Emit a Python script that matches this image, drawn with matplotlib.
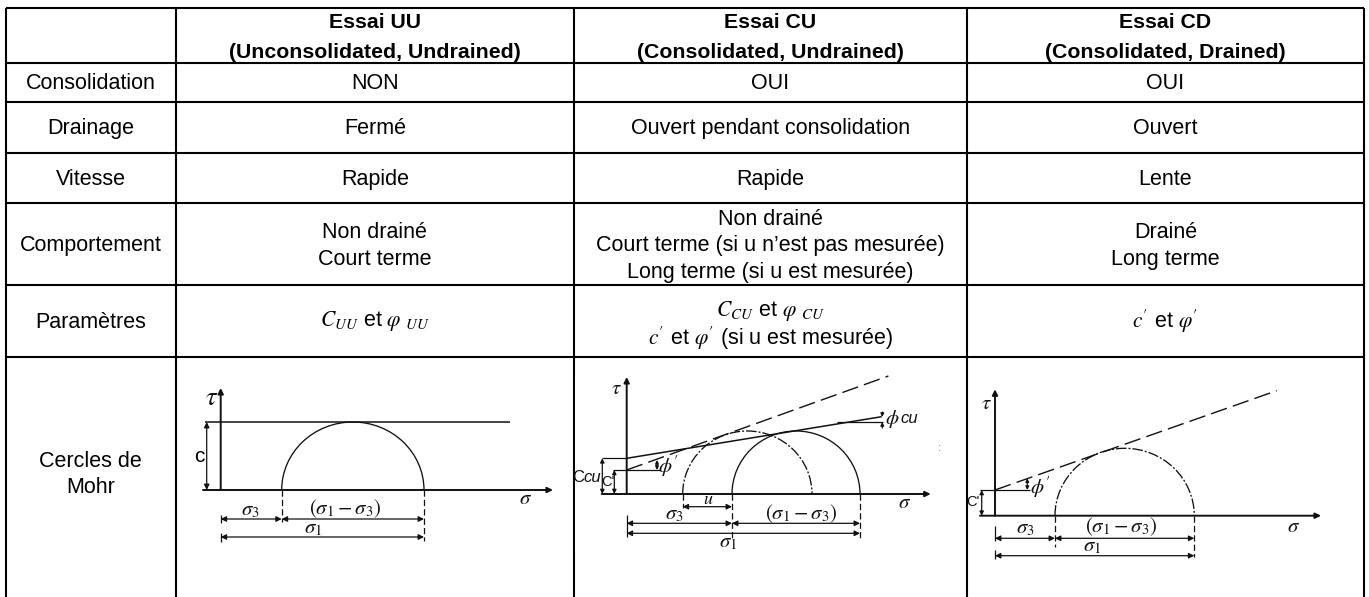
import matplotlib
matplotlib.use("Agg")
import matplotlib.pyplot as plt
from matplotlib.patches import Arc, Rectangle

plt.rcParams['font.family'] = ['Liberation Sans', 'DejaVu Sans']
plt.rcParams['mathtext.fontset'] = 'stix'

# table text
row_names = ['Consolidation', 'Drainage', 'Vitesse', 'Comportement', 'Paramètres', 'Cercles de\nMohr']
col_heads = ['Essai UU\n(Unconsolidated, Undrained)',
             'Essai CU\n(Consolidated, Undrained)',
             'Essai CD\n(Consolidated, Drained)']
uu_cells = ['NON', 'Fermé', 'Rapide', 'Non drainé\nCourt terme', r'$C_{UU}$ et $\varphi\ _{UU}$']
cu_cells = ['OUI', 'Ouvert pendant consolidation', 'Rapide',
            'Non drainé\nCourt terme (si u n’est pas mesurée)\nLong terme (si u est mesurée)',
            r'$C_{CU}$ et $\varphi\ _{CU}$' + '\n' + r"$c'$ et $\varphi'$ (si u est mesurée)"]
cd_cells = ['OUI', 'Ouvert', 'Lente', 'Drainé\nLong terme', r"$c'$ et $\varphi'$"]

# table grid, in pixels
col_x = [5.7, 175.7, 574, 967, 1364]
row_y = [7.5, 62.5, 101.7, 152.5, 203.3, 285.3, 356.7, 597]

# Mohr diagrams, values (pixels from each origin)
uu_s3, uu_s1, uu_c = 61, 203.3, 68
cu_s3, cu_s1, cu_u = 105.3, 233.3, 49.3
cu_ccu, cu_c = 35.7, 24
cu_end_total = (255, 77.3)
cu_end_eff = (261.7, 118)
cd_s3, cd_s1, cd_c = 60, 199.3, 25.7
cd_end_eff = (281.7, 125)

DASH = (0, (12, 4.5))
DASHDOT = (0, (8, 1.5, 1.5, 1.5))
VDASH = (0, (5, 2.5))
INK = '#111111'

fig = plt.figure(figsize=(13.69, 5.97), dpi=100)
ax = fig.add_axes([0, 0, 1, 1])
ax.set_xlim(0, 1369)
ax.set_ylim(597, 0)
ax.axis('off')


def seg(x, y, lw=0.9, ls='-', z=3):
    ax.plot(x, y, color=INK, lw=lw, ls=ls, zorder=z, solid_capstyle='butt')


def arrow(x0, y0, x1, y1, style='-|>', lw=0.9, ms=8):
    ax.annotate('', xy=(x1, y1), xytext=(x0, y0), zorder=4,
                arrowprops=dict(arrowstyle=style, color=INK, lw=lw, shrinkA=0, shrinkB=0,
                                mutation_scale=ms))


def half_circle(ox, oy, left, right, top, ls):
    ax.add_patch(Arc((ox + (left + right) / 2, oy), right - left, 2 * top, theta1=180, theta2=360,
                     color=INK, lw=0.95, ls=ls, zorder=3))


def cell(x, y, txt, pitch=26.5, size=15.5, weight='normal'):
    lines = txt.split('\n')
    for i, line in enumerate(lines):
        ax.text(x, y + 1.5 + (i - (len(lines) - 1) / 2) * pitch, line, ha='center', va='center',
                fontsize=size, fontweight=weight, color='black')


def label(x, y, txt, size=15, **kw):
    ax.text(x, y, txt, ha='center', va='center', fontsize=size, color=INK, zorder=5, **kw)


# grid
for x in col_x:
    ax.plot([x, x], [row_y[0], row_y[-1]], color='black', lw=1.5, zorder=2, solid_capstyle='butt')
for y in row_y[:-1]:
    ax.plot([col_x[0], col_x[-1]], [y, y], color='black', lw=1.5, zorder=2, solid_capstyle='butt')

# text
col_mid = [(col_x[i] + col_x[i + 1]) / 2 for i in range(4)]
row_mid = [(row_y[i] + row_y[i + 1]) / 2 for i in range(7)]
for i, h in enumerate(col_heads):
    cell(col_mid[i + 1], 36, h, pitch=29, size=15.3, weight='bold')
for i, name in enumerate(row_names):
    cell(col_mid[0], row_mid[i + 1] if i < 5 else 473, name, pitch=25.5)
for col, cells in enumerate([uu_cells, cu_cells, cd_cells]):
    for i, txt in enumerate(cells):
        pitch = 27.5 if i == 4 else 26.5
        extra = 0
        if i == 4:
            extra = 2 if col == 1 else -1.5
        cell(col_mid[col + 1], row_mid[i + 1] + extra, txt, pitch=pitch)

# UU
ox, oy = 220.7, 490
arrow(ox, oy, ox, oy - 102, lw=1.4)
arrow(203, oy, 553, oy, lw=1.4)
seg([205, 510], [oy - uu_c, oy - uu_c], lw=1.1)
half_circle(ox, oy, uu_s3, uu_s1, uu_c, '-')
arrow(206.7, oy - uu_c, 206.7, oy, style='<|-|>')
seg([ox + uu_s3] * 2, [oy, oy + 32], ls=VDASH)
seg([ox + uu_s1] * 2, [oy, oy + 51], ls=VDASH)
seg([ox, ox], [oy + 25, oy + 33])
seg([ox, ox], [oy + 43, oy + 52])
arrow(ox, oy + 29, ox + uu_s3, oy + 29, style='<|-|>')
arrow(ox + uu_s3, oy + 29, ox + uu_s1, oy + 29, style='<|-|>')
arrow(ox, oy + 47, ox + uu_s1, oy + 47, style='<|-|>')
label(212, 398, r'$\tau$', 19)
ax.text(199, 457, 'c', ha='center', va='center', fontsize=15)
label(526, 499, r'$\sigma$')
label(250, 511, r'$\sigma_3$')
label(345, 509, r'$(\sigma_1 - \sigma_3)$')
label(313, 528, r'$\sigma_1$')

# CU, the pasted scan hides part of the cell border
ax.add_patch(Rectangle((574.6, 375), 8, 176, fc='white', ec='none', zorder=2.5))
ox, oy = 626.7, 494
arrow(ox, oy, ox, oy - 117, lw=1.4)
arrow(601.7, oy, 930.7, oy, lw=1.4)
half_circle(ox, oy, cu_s3, cu_s1, 63, '-')
half_circle(ox, oy, cu_s3 - cu_u, cu_s3 + 80, 63, DASHDOT)
seg([601.7, ox], [oy - cu_ccu] * 2)
seg([ox, ox + cu_end_total[0]], [oy - cu_ccu, oy - cu_end_total[1]], lw=1.1)
seg([836.7, 883], [422, 422])
seg([613.3, 660], [oy - cu_c] * 2)
seg([ox, ox + cu_end_eff[0]], [oy - cu_c, oy - cu_end_eff[1]], lw=1.0, ls=DASH)
arrow(882.3, 412, 882.3, 417, ms=5)
arrow(882.3, 428, 882.3, 422, ms=5)
arrow(657, 460, 657, 470, style='<|-|>', ms=5)
arrow(602.3, oy - cu_ccu, 602.3, oy, style='<|-|>', ms=6)
arrow(614.3, oy - cu_c, 614.3, oy, style='<|-|>', ms=6)
seg([ox + cu_s3 - cu_u] * 2, [oy, oy + 14], ls=VDASH)
seg([ox + cu_s3] * 2, [oy, oy + 45], ls=VDASH)
seg([ox + cu_s1] * 2, [oy, oy + 44], ls=VDASH)
seg([ox, ox], [oy + 21, oy + 43])
arrow(ox + cu_s3 - cu_u, oy + 12.7, ox + cu_s3, oy + 12.7, style='<|-|>')
arrow(ox, oy + 29.3, ox + cu_s3, oy + 29.3, style='<|-|>')
arrow(ox + cu_s3, oy + 29.3, ox + cu_s1, oy + 29.3, style='<|-|>')
arrow(ox, oy + 39.3, ox + cu_s1, oy + 39.3, style='<|-|>')
label(616.7, 388, r'$\tau$', 15)
label(905, 503, r'$\sigma$')
label(708, 500, r'$u$', 13)
label(674, 515, r'$\sigma_3$')
label(800.7, 514, r'$(\sigma_1 - \sigma_3)$')
label(728.3, 542, r'$\sigma_1$')
label(668, 466.7, r"$\phi'$", 15)
label(892, 419, r'$\phi$', 15)
label(909, 418.5, 'cu', 12, style='italic')
label(578, 478, 'C', 12)
label(592, 478, 'cu', 12, style='italic')
label(608, 481.7, "C'", 10.5)
ax.text(938, 448, ':', ha='center', va='center', fontsize=7, color='#444444')

# CD
ox, oy = 995, 515.7
arrow(ox, oy, ox, oy - 126.4, lw=1.4)
arrow(980, oy, 1321, oy, lw=1.4)
half_circle(ox, oy, cd_s3, cd_s1, 67.4, DASHDOT)
seg([980, 1030], [oy - cd_c] * 2)
seg([ox, ox + cd_end_eff[0]], [oy - cd_c, oy - cd_end_eff[1]], lw=1.0, ls=DASH)
arrow(1027.3, 478.3, 1027.3, 490, style='<|-|>', ms=5)
arrow(981.7, oy - cd_c, 981.7, oy, style='<|-|>', ms=6)
seg([ox + cd_s3] * 2, [oy, oy + 31], ls=VDASH)
seg([ox + cd_s1] * 2, [oy, oy + 41], ls=VDASH)
seg([ox, ox], [oy + 10, oy + 25])
seg([ox, ox], [oy + 34, oy + 43])
arrow(ox, oy + 22.6, ox + cd_s3, oy + 22.6, style='<|-|>')
arrow(ox + cd_s3, oy + 22.6, ox + cd_s1, oy + 22.6, style='<|-|>')
arrow(ox, oy + 40, ox + cd_s1, oy + 40, style='<|-|>')
label(986, 403.3, r'$\tau$', 15)
label(1293.3, 526, r'$\sigma$')
label(1025, 528, r'$\sigma_3$')
label(1120.7, 527, r'$(\sigma_1 - \sigma_3)$')
label(1091.7, 546, r'$\sigma_1$')
label(1040, 487.3, r"$\phi'$", 15)
label(973, 502.3, "C'", 10.5)

fig.savefig("out.png", dpi=100)
